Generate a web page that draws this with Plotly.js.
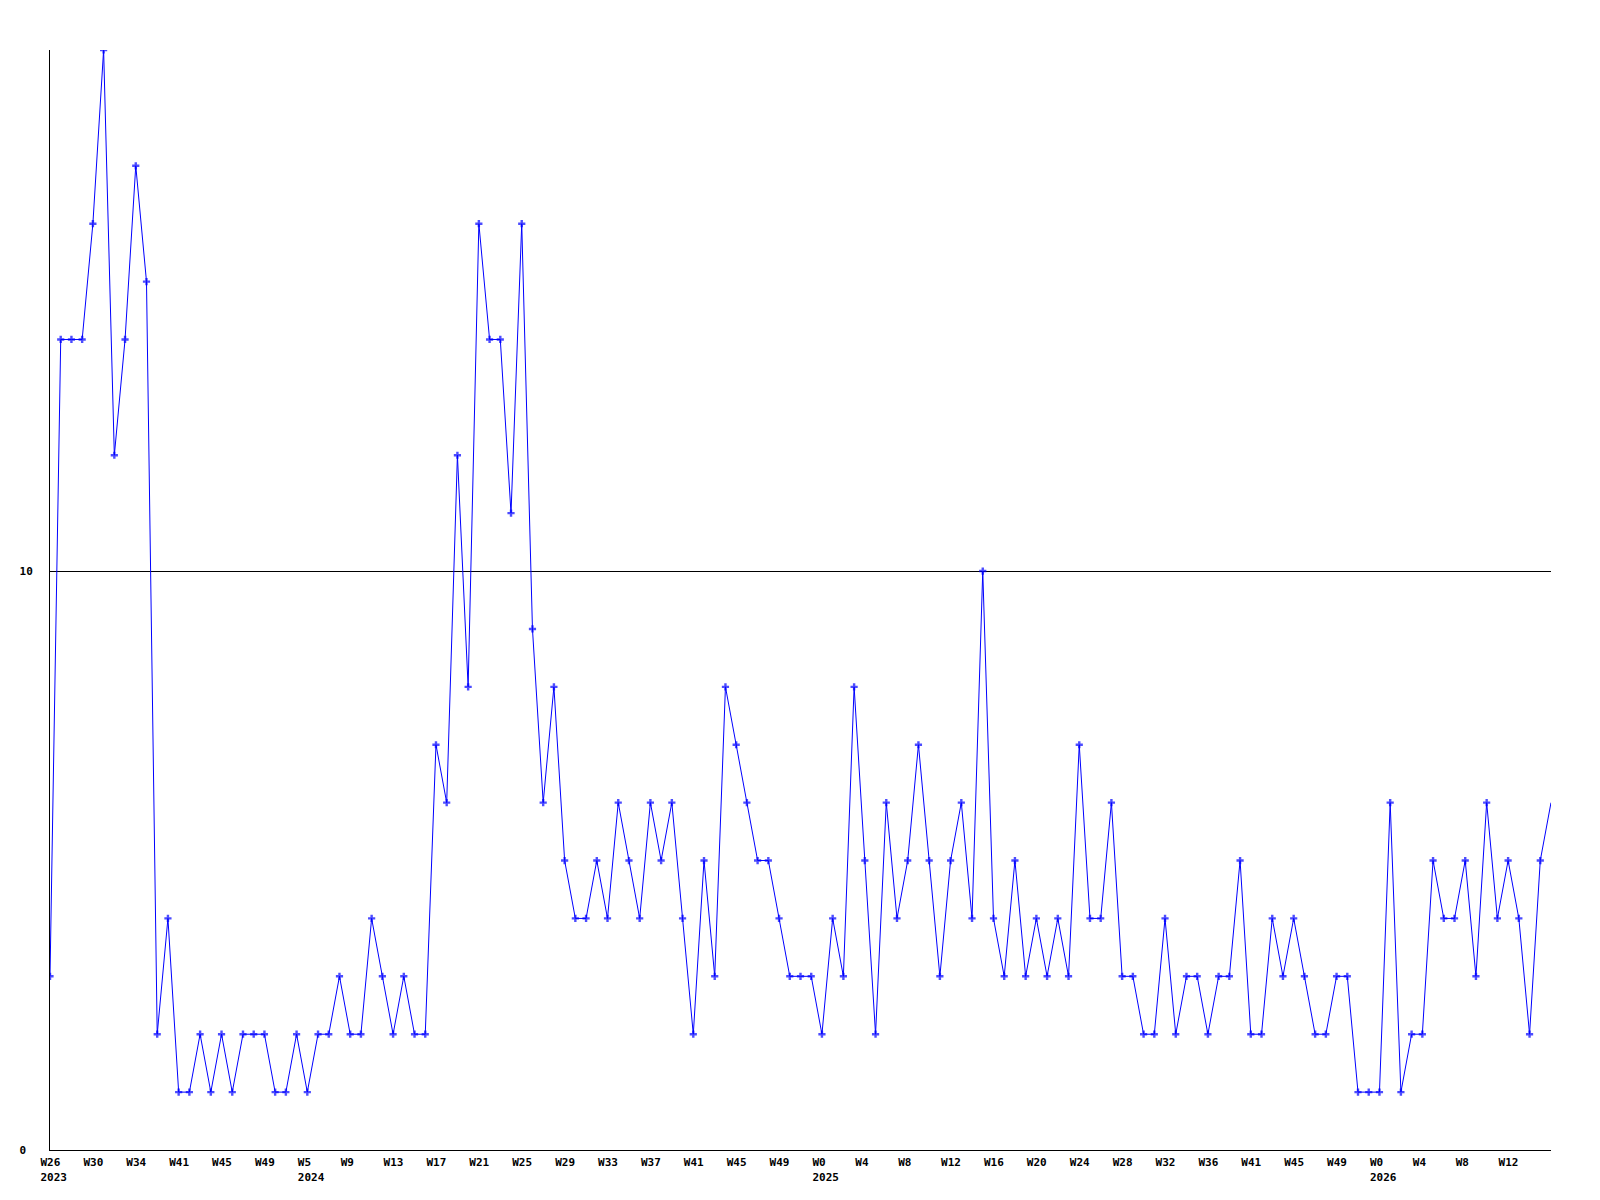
<!DOCTYPE html>
<html>
<head>
<meta charset="utf-8">
<script src="https://cdn.plot.ly/plotly-3.0.1.min.js"></script>
<style>
  html, body { margin: 0; padding: 0; background: #ffffff; }
  #chart { width: 1600px; height: 1200px; }
</style>
</head>
<body>
<div id="chart"></div>
<script>
// Weekly values, one per point (141 points)
const values = [
  3, 14, 14, 14, 16, 19, 12, 14, 17, 15,
  2, 4, 1, 1, 2, 1, 2, 1, 2, 2,
  2, 1, 1, 2, 1, 2, 2, 3, 2, 2,
  4, 3, 2, 3, 2, 2, 7, 6, 12, 8,
  16, 14, 14, 11, 16, 9, 6, 8, 5, 4,
  4, 5, 4, 6, 5, 4, 6, 5, 6, 4,
  2, 5, 3, 8, 7, 6, 5, 5, 4, 3,
  3, 3, 2, 4, 3, 8, 5, 2, 6, 4,
  5, 7, 5, 3, 5, 6, 4, 10, 4, 3,
  5, 3, 4, 3, 4, 3, 7, 4, 4, 6,
  3, 3, 2, 2, 4, 2, 3, 3, 2, 3,
  3, 5, 2, 2, 4, 3, 4, 3, 2, 2,
  3, 3, 1, 1, 1, 6, 1, 2, 2, 5,
  4, 4, 5, 3, 6, 4, 5, 4, 2, 5,
  6
];

// Tick labels shown every 4th point
const weekLabels = [
  "W26", "W30", "W34", "W41", "W45", "W49",
  "W5", "W9", "W13", "W17", "W21", "W25", "W29", "W33", "W37", "W41", "W45", "W49",
  "W0", "W4", "W8", "W12", "W16", "W20", "W24", "W28", "W32", "W36", "W41", "W45", "W49",
  "W0", "W4", "W8", "W12"
];
const yearLabels = [
  "2023", "", "", "", "", "",
  "2024", "", "", "", "", "", "", "", "", "", "", "",
  "2025", "", "", "", "", "", "", "", "", "", "", "", "",
  "2026", "", "", "", ""
];
const labelStep = 4;

const yTickVals = [0, 10];
const yTickText = ["0\u00a0", "10"];

const xs = values.map((v, i) => i);
const tickVals = weekLabels.map((w, k) => k * labelStep);
const tickText = weekLabels.map((w, k) => yearLabels[k] ? (w + "<br>" + yearLabels[k]) : w);
const markerSizes = values.map((v, i) => (i === values.length - 1 ? 0 : 6));

const font = { family: "DejaVu Sans Mono", size: 11, color: "#000000", weight: "bold" };

const trace = {
  type: "scatter",
  mode: "lines+markers",
  x: xs,
  y: values,
  line: { color: "#0000ff", width: 1 },
  marker: { symbol: "cross", size: markerSizes, color: "#0000ff", line: { width: 0 } },
  hoverinfo: "skip",
  cliponaxis: true
};

const layout = {
  width: 1600,
  height: 1200,
  margin: { l: 50, r: 49, t: 50, b: 50 },
  paper_bgcolor: "#ffffff",
  plot_bgcolor: "#ffffff",
  showlegend: false,
  font: font,
  xaxis: {
    range: [0, values.length - 1],
    showgrid: false,
    zeroline: false,
    showline: true,
    linecolor: "#000000",
    linewidth: 1,
    ticks: "",
    tickmode: "array",
    tickvals: tickVals,
    ticktext: tickText,
    ticklabelposition: "outside right",
    ticklabelshift: -10,
    ticklabelstandoff: 2,
    tickfont: font
  },
  yaxis: {
    range: [0, 19],
    showgrid: true,
    gridcolor: "#000000",
    gridwidth: 1,
    zeroline: false,
    showline: true,
    linecolor: "#000000",
    linewidth: 1,
    ticks: "",
    tickmode: "array",
    tickvals: yTickVals,
    ticktext: yTickText,
    ticklabelstandoff: 14,
    tickfont: font
  }
};

Plotly.newPlot("chart", [trace], layout, { staticPlot: true, displayModeBar: false });
</script>
</body>
</html>
